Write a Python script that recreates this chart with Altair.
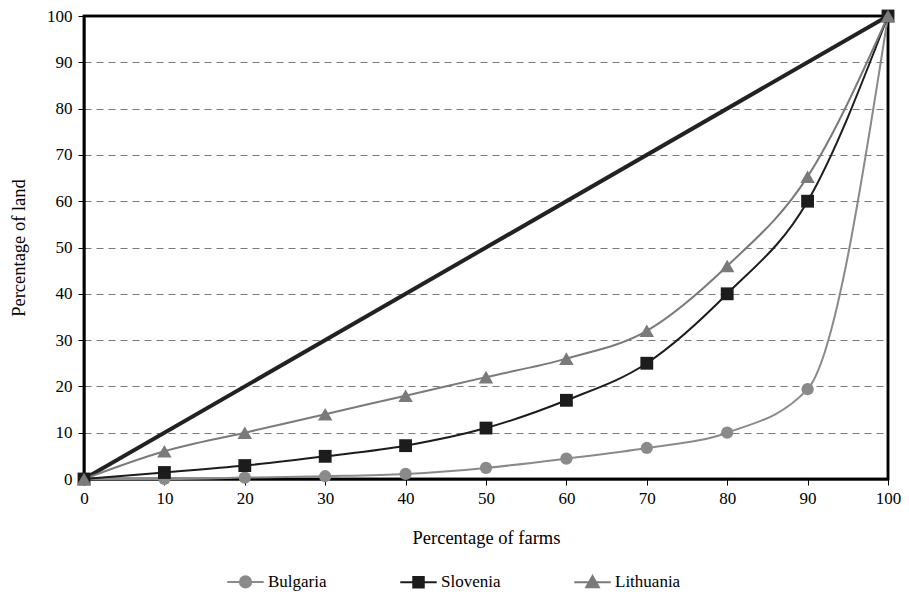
import altair as alt
import pandas as pd

FONT = "Liberation Serif"

x_vals = [0, 10, 20, 30, 40, 50, 60, 70, 80, 90, 100]
bulgaria = [0, 0, 0.3, 0.6, 1.1, 2.4, 4.4, 6.7, 10.0, 19.4, 100]
slovenia = [0, 1.4, 2.9, 4.9, 7.2, 11.0, 17.0, 25.0, 40.0, 60.0, 100]
lithuania = [0, 6.0, 10.0, 14.0, 18.0, 22.0, 26.0, 32.0, 46.0, 65.3, 100]
equality_x = [0, 100]
equality_y = [0, 100]
y_ticks = [0, 10, 20, 30, 40, 50, 60, 70, 80, 90, 100]

series_names = ["Bulgaria", "Slovenia", "Lithuania"]
series_colors = ["#8a8a8a", "#1c1c1c", "#7a7a7a"]
marker_shapes = ["circle", "square", "triangle-up"]
marker_sizes = [150, 165, 210]
# legend glyphs: a line segment with the marker in its middle (unit = 7px)
legend_paths = [
    "M-2.6,0L2.6,0M-0.8,0A0.8,0.8 0 1,0 0.8,0A0.8,0.8 0 1,0 -0.8,0Z",
    "M-2.6,0L2.6,0M-0.75,-0.75L0.75,-0.75L0.75,0.75L-0.75,0.75Z",
    "M-2.6,0L2.6,0M0,-0.9L0.9,0.7L-0.9,0.7Z",
]

rows = []
for name, vals in zip(series_names, [bulgaria, slovenia, lithuania]):
    for xv, yv in zip(x_vals, vals):
        rows.append({"farms": xv, "land": yv, "series": name})
df = pd.DataFrame(rows)
eq_df = pd.DataFrame({"farms": equality_x, "land": equality_y})

W, H = 804, 463

xscale = alt.Scale(domain=[0, 100], nice=False, zero=False)
yscale = alt.Scale(domain=[0, 100], nice=False)

x_axis = alt.Axis(values=x_vals, title="Percentage of farms", grid=False,
                  domainColor="black", domainWidth=2, tickColor="black",
                  tickSize=6, tickWidth=1, labelFont=FONT, labelFontSize=17,
                  labelColor="black", labelPadding=5, labelFlush=False,
                  titleFont=FONT, titleFontSize=18.5, titleFontWeight="normal",
                  titleColor="black", titlePadding=22)
y_axis = alt.Axis(values=y_ticks, title="Percentage of land", grid=True,
                  gridDash=[7, 5], gridColor="#7a7a7a", gridWidth=1,
                  domainColor="black", domainWidth=2, tickColor="black",
                  tickSize=6, tickWidth=1, labelFont=FONT, labelFontSize=17,
                  labelColor="black", labelPadding=6,
                  titleFont=FONT, titleFontSize=18.5, titleFontWeight="normal",
                  titleColor="black", titlePadding=18)

X = alt.X("farms:Q", scale=xscale, axis=x_axis)
Y = alt.Y("land:Q", scale=yscale, axis=y_axis)

frame = alt.Chart(eq_df).mark_rect(fill=None, stroke="black", strokeWidth=2.5).encode(
    x=alt.value(0), x2=alt.value(W), y=alt.value(0), y2=alt.value(H)
)

diag = alt.Chart(eq_df).mark_line(color="#222222", strokeWidth=4).encode(x=X, y=Y)

line_layers = []
point_layers = []
for name, col, shp, sz in zip(series_names, series_colors, marker_shapes, marker_sizes):
    sub = alt.Chart(df).transform_filter(alt.datum.series == name)
    line_layers.append(
        sub.mark_line(interpolate="monotone", strokeWidth=2, color=col).encode(x=X, y=Y)
    )
    point_layers.append(
        sub.mark_point(filled=True, shape=shp, size=sz, color=col, opacity=1).encode(x=X, y=Y)
    )

leg = alt.Legend(title=None, orient="none", legendX=153, legendY=557, padding=0,
                 direction="horizontal", symbolSize=196, symbolStrokeWidth=2,
                 labelFont=FONT, labelFontSize=17, labelColor="black",
                 labelOffset=14, columnPadding=69)

legend_layer = alt.Chart(df).transform_filter("false").mark_point(filled=True, opacity=1).encode(
    x=X, y=Y,
    fill=alt.Fill("series:N", scale=alt.Scale(domain=series_names, range=series_colors), legend=leg),
    stroke=alt.Stroke("series:N", scale=alt.Scale(domain=series_names, range=series_colors), legend=leg),
    shape=alt.Shape("series:N", scale=alt.Scale(domain=series_names, range=legend_paths), legend=leg),
)

chart = alt.layer(frame, diag, *line_layers, *point_layers, legend_layer).properties(
    width=W, height=H,
    autosize=alt.AutoSizeParams(type="none"),
    padding={"left": 76, "top": 8, "right": 13, "bottom": 116},
).configure_view(strokeWidth=0).configure(background="white")

chart.save("out.html", embed_options={"renderer": "svg", "actions": False})
